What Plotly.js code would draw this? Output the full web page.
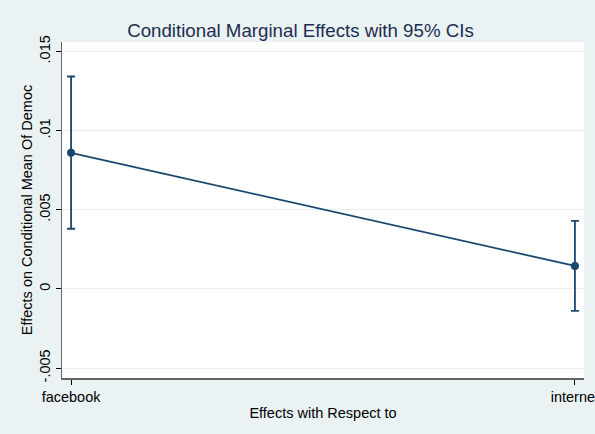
<!DOCTYPE html>
<html>
<head>
<meta charset="utf-8">
<script src="https://cdn.plot.ly/plotly-3.0.1.min.js"></script>
<style>html,body{margin:0;padding:0;background:#eaf2f3;}</style>
</head>
<body>
<div id="chart" style="width:595px;height:434px;"></div>
<script>
const categories = ["facebook", "internet"];
const effects = [0.0086, 0.00145];
const ciUpper = [0.01342, 0.0043];
const ciLower = [0.0038, -0.00139];
const yTickVals = [-0.005, 0, 0.005, 0.01, 0.015];
const yTickText = ["-.005", "0", ".005", ".01", ".015"];

const xIdx = categories.map((c, i) => i);
const errPlus = effects.map((v, i) => ciUpper[i] - v);
const errMinus = effects.map((v, i) => v - ciLower[i]);

const trace = {
  x: xIdx,
  y: effects,
  type: "scatter",
  mode: "lines+markers",
  line: {color: "#1a476f", width: 1.8},
  marker: {color: "#1a476f", size: 8},
  error_y: {
    type: "data", symmetric: false,
    array: errPlus, arrayminus: errMinus,
    color: "#1a476f", thickness: 1.8, width: 4
  },
  hoverinfo: "none",
  showlegend: false
};

const layout = {
  width: 595, height: 434,
  paper_bgcolor: "#eaf2f3",
  plot_bgcolor: "#ffffff",
  margin: {l: 62, r: 11, t: 42, b: 56, pad: 0},
  font: {family: "Liberation Sans, Arial, sans-serif", color: "#000000", size: 14.5},
  title: {
    text: "Conditional Marginal Effects with 95% CIs",
    font: {size: 18.7, color: "#1e2d4f", family: "Liberation Sans, Arial, sans-serif"},
    x: 0.505, xanchor: "center", y: 0.93, yanchor: "middle"
  },
  xaxis: {
    range: [-0.018, 1.018],
    tickvals: xIdx, ticktext: categories,
    ticklabeloverflow: "allow",
    ticks: "outside", ticklen: 5, tickcolor: "#000000", tickwidth: 1,
    showline: true, linecolor: "#666666", linewidth: 1.5,
    showgrid: false, zeroline: false,
    tickfont: {size: 14.5},
    title: {text: "Effects with Respect to", font: {size: 14.5}, standoff: 4}
  },
  yaxis: {
    range: [-0.00563, 0.0156],
    tickvals: yTickVals, ticktext: yTickText,
    tickangle: -90,
    ticks: "outside", ticklen: 5, tickcolor: "#000000", tickwidth: 1,
    showline: true, linecolor: "#666666", linewidth: 1.5,
    showgrid: true, gridcolor: "#e6eef0", gridwidth: 1,
    zeroline: false,
    tickfont: {size: 14.5},
    title: {text: "Effects on Conditional Mean Of Democ", font: {size: 14.5}, standoff: 0}
  }
};

Plotly.newPlot("chart", [trace], layout, {displayModeBar: false, staticPlot: true});
</script>
</body>
</html>
